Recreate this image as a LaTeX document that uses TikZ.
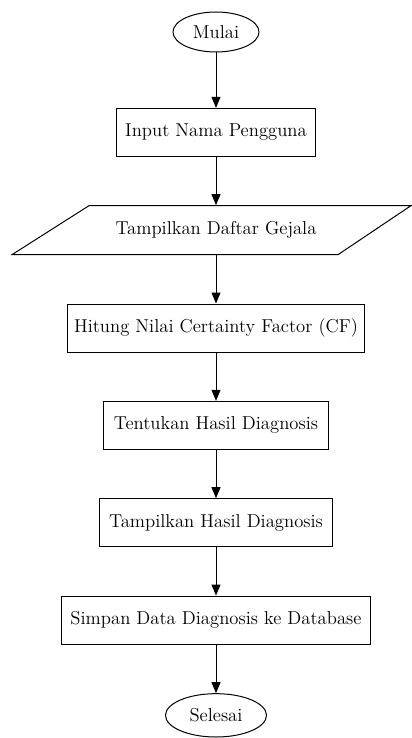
\documentclass[tikz,border=0pt]{standalone}
\usetikzlibrary{arrows.meta, calc, positioning, shapes.geometric}

\begin{document}
\begin{tikzpicture}[x=0.75pt, y=0.75pt, node distance=36.25pt,
            every node/.style={font=\fontsize{14}{16}\selectfont, line width=0.75pt},
            terminal/.style={ellipse, draw, inner sep=0pt, minimum height=30pt},
            prosesbox/.style={rectangle, draw, minimum height=36pt},
            alur/.style={-{Triangle[length=8.25pt, width=6.75pt]}, line width=0.75pt}
        ]
        \useasboundingbox (-216,32) rectangle (195,-706);
        \node[terminal, minimum width=64.5pt] (mulai) at (0,0) {Mulai};
        \node[prosesbox, minimum width=149.25pt, below=41.5pt of mulai] (input) {Input Nama Pengguna};
        \node[minimum height=36.75pt, below=of input] (gejala) {Tampilkan Daftar Gejala};
        \node[prosesbox, minimum width=222pt, below=of gejala] (hitung) {Hitung Nilai Certainty Factor (CF)};
        \node[prosesbox, minimum width=168pt, below=of hitung] (tentukan) {Tentukan Hasil Diagnosis};
        \node[prosesbox, minimum width=174.75pt, below=of tentukan] (hasil) {Tampilkan Hasil Diagnosis};
        \node[prosesbox, minimum width=231.75pt, below=of hasil] (simpan) {Simpan Data Diagnosis ke Database};
        \node[terminal, minimum width=75.75pt, minimum height=32.5pt, below=36.5pt of simpan] (selesai) {Selesai};

        % jajaran genjang untuk input/output
        \draw[line width=0.75pt] ($(gejala.center)+(-127,24.5)$) -- ($(gejala.center)+(195,24.5)$)
            -- ($(gejala.center)+(122,-24.5)$) -- ($(gejala.center)+(-204,-24.5)$) -- cycle;

        \draw[alur] (mulai) -- (input);
        \draw[alur] (input) -- (gejala);
        \draw[alur] (gejala) -- (hitung);
        \draw[alur] (hitung) -- (tentukan);
        \draw[alur] (tentukan) -- (hasil);
        \draw[alur] (hasil) -- (simpan);
        \draw[alur] (simpan) -- (selesai);
    \end{tikzpicture}
\end{document}
